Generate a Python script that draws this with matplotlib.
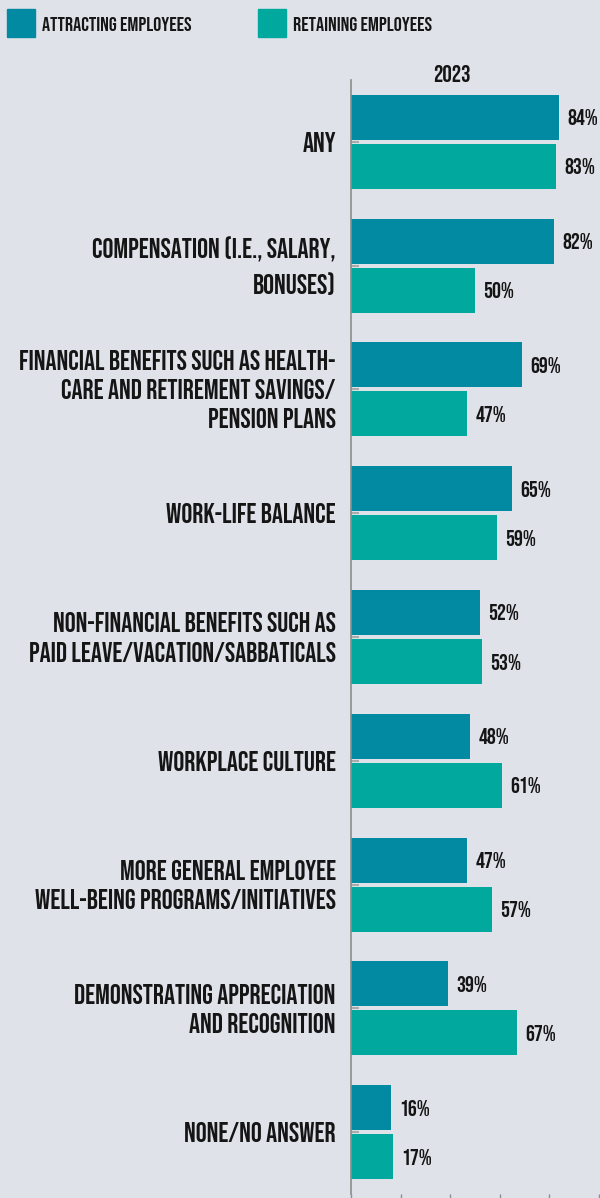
import matplotlib
matplotlib.use("Agg")
import matplotlib.pyplot as plt
import numpy as np
from matplotlib.patches import Rectangle

# Survey results, 2023
categories = [
    "ANY",
    "COMPENSATION (I.E., SALARY,\nBONUSES)",
    "FINANCIAL BENEFITS SUCH AS HEALTH-\nCARE AND RETIREMENT SAVINGS/\nPENSION PLANS",
    "WORK-LIFE BALANCE",
    "NON-FINANCIAL BENEFITS SUCH AS\nPAID LEAVE/VACATION/SABBATICALS",
    "WORKPLACE CULTURE",
    "MORE GENERAL EMPLOYEE\nWELL-BEING PROGRAMS/INITIATIVES",
    "DEMONSTRATING APPRECIATION\nAND RECOGNITION",
    "NONE/NO ANSWER",
]
attracting = [84, 82, 69, 65, 52, 48, 47, 39, 16]
retaining = [83, 50, 47, 59, 53, 61, 57, 67, 17]
series_names = ["ATTRACTING EMPLOYEES", "RETAINING EMPLOYEES"]
year = "2023"

BG = "#dfe2e9"
C_ATTR = "#038aa3"
C_RET = "#00a89e"
GREY = "#8c8c8c"
TXT = "#151515"

plt.rcParams["font.family"] = ["Bebas Neue", "DejaVu Sans"]
plt.rcParams["text.color"] = TXT

W, H = 600, 1198
fig = plt.figure(figsize=(W / 100, H / 100), dpi=100, facecolor=BG)
ax = fig.add_axes([351 / W, 4 / H, 249 / W, 1114 / H])
ax.set_facecolor(BG)

y = np.arange(len(categories))
bar_h = 0.363
off = 0.198
b1 = ax.barh(y - off, attracting, height=bar_h, color=C_ATTR)
b2 = ax.barh(y + off, retaining, height=bar_h, color=C_RET)

ax.bar_label(b1, labels=[f"{v}%" for v in attracting], padding=6, fontsize=16, color=TXT)
ax.bar_label(b2, labels=[f"{v}%" for v in retaining], padding=6, fontsize=16, color=TXT)

ax.set_xlim(0, 100.6)
ax.set_ylim(len(categories) - 0.5, -0.5)

for side in ("top", "right", "bottom"):
    ax.spines[side].set_visible(False)
ax.spines["left"].set_color(GREY)
ax.spines["left"].set_linewidth(1.2)

ax.set_yticks(y)
ax.set_yticklabels(categories, fontsize=19.8, linespacing=1.45, color=TXT)
for lbl in ax.get_yticklabels():
    lbl.set_verticalalignment("center")
ax.tick_params(axis="y", direction="in", length=6, width=1.5, color="#aaaaaa", pad=11)

ax.set_xticks(range(0, 101, 20))
ax.tick_params(axis="x", direction="out", length=6, width=1, color=GREY, labelbottom=False)

# year heading above the bars
fig.text(452 / W, 1 - 74 / H, year, ha="center", va="center", fontsize=17)

# legend swatches along the top
for x0, color, name in ((7, C_ATTR, series_names[0]), (258, C_RET, series_names[1])):
    fig.patches.append(Rectangle((x0 / W, 1 - 37 / H), 28 / W, 28 / H,
                                 transform=fig.transFigure, color=color))
    fig.text((x0 + 35) / W, 1 - 24 / H, name, ha="left", va="center", fontsize=14.5)

fig.savefig("out.png", dpi=100, facecolor=BG)
